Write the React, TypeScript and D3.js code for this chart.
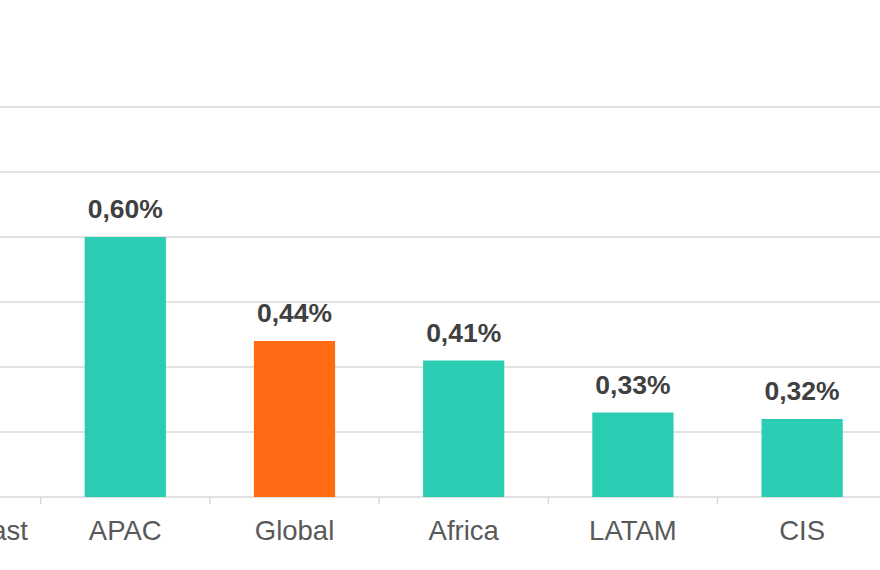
import React from "react";
import * as d3 from "d3";

const categories = ["Middle East", "APAC", "Global", "Africa", "LATAM", "CIS"];
const values = [0.67, 0.6, 0.44, 0.41, 0.33, 0.32];
const highlight = ["Global"];
const yTicks = [0.2, 0.3, 0.4, 0.5, 0.6, 0.7, 0.8];

const W = 880;
const H = 570;

export default function App() {
  const x = d3
    .scaleBand<string>()
    .domain(categories)
    .range([-128.5, 886.7])
    .paddingInner(0.52)
    .paddingOuter(0.26);
  const y = d3.scaleLinear().domain([0.2, 0.8]).range([497, 107]);
  const fmt = (v: number) => v.toFixed(2).replace(".", ",") + "%";
  const step = x.step();
  const tickXs = categories.slice(1).map((c) => (x(c) as number) - (x.paddingInner() * step) / 2);

  return (
    <svg
      width={W}
      height={H}
      style={{ position: "absolute", left: 0, top: 0, background: "#fff" }}
      fontFamily="'Liberation Sans', Arial, sans-serif"
    >
      {yTicks.map((t) => (
        <line key={t} x1={0} x2={W} y1={y(t)} y2={y(t)} stroke="#D9D9D9" strokeWidth={1.4} />
      ))}
      {tickXs.map((tx, i) => (
        <line key={i} x1={tx} x2={tx} y1={497} y2={504} stroke="#D9D9D9" strokeWidth={1.4} />
      ))}
      {categories.map((c, i) => {
        const bx = x(c) as number;
        const bw = x.bandwidth();
        const v = values[i];
        return (
          <g key={c}>
            <rect
              x={bx}
              y={y(v)}
              width={bw}
              height={497 - y(v)}
              fill={highlight.includes(c) ? "#FF6A13" : "#2ACDB2"}
            />
            <text
              x={bx + bw / 2}
              y={y(v) - 19}
              textAnchor="middle"
              fontSize={26.5}
              fontWeight="bold"
              fill="#404040"
            >
              {fmt(v)}
            </text>
            <text x={bx + bw / 2} y={540} textAnchor="middle" fontSize={27.5} fill="#595959">
              {c}
            </text>
          </g>
        );
      })}
    </svg>
  );
}
